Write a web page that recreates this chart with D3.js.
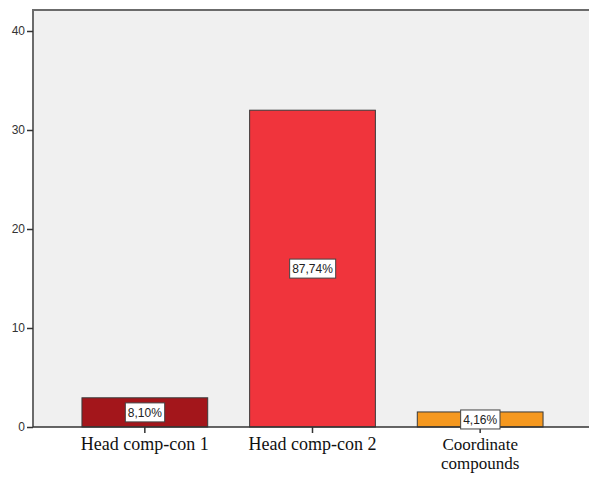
<!DOCTYPE html>
<html>
<head>
<meta charset="utf-8">
<script src="https://cdn.jsdelivr.net/npm/d3@7"></script>
<style>
  html, body { margin: 0; background: #fff; overflow: hidden; }
  svg { display: block; }
</style>
</head>
<body>
<svg id="chart" width="589" height="477"></svg>
<script>
// chart data
var categories = ['Head comp-con 1', 'Head comp-con 2', 'Coordinate compounds'];
var counts = [2.95, 32.0, 1.52];
var pctLabels = ['8,10%', '87,74%', '4,16%'];
var barColors = ['#A3161B', '#F0343C', '#F5981F'];
var yTicks = [0, 10, 20, 30, 40];

var svg = d3.select('#chart');

// plot frame (right edge runs off the picture)
var frame = { left: 33, top: 10, right: 589, bottom: 427 };

var x = d3.scaleBand()
    .domain(categories)
    .range([61, 564])
    .paddingInner(0.25)
    .paddingOuter(0.125);

var y = d3.scaleLinear()
    .domain([0, 40])
    .range([frame.bottom, 31]);

svg.append('rect')
    .attr('x', frame.left)
    .attr('y', frame.top)
    .attr('width', frame.right - frame.left)
    .attr('height', frame.bottom - frame.top)
    .attr('fill', '#F0F0F0');

// bars
svg.selectAll('rect.bar')
    .data(counts)
    .enter().append('rect')
    .attr('class', 'bar')
    .attr('x', function (d, i) { return x(categories[i]); })
    .attr('y', function (d) { return y(d); })
    .attr('width', x.bandwidth())
    .attr('height', function (d) { return y(0) - y(d); })
    .attr('fill', function (d, i) { return barColors[i]; })
    .attr('stroke', '#3a3a3a')
    .attr('stroke-width', 1);

// frame lines: top and left
svg.append('path')
    .attr('d', 'M' + frame.left + ',' + frame.bottom + 'V' + frame.top + 'H' + frame.right)
    .attr('fill', 'none')
    .attr('stroke', '#6b6b6b')
    .attr('stroke-width', 2);

// y axis
var yAxis = svg.append('g')
    .attr('transform', 'translate(' + frame.left + ',0)')
    .call(d3.axisLeft(y).tickValues(yTicks).tickSize(6).tickPadding(2));
yAxis.select('.domain').remove();
yAxis.selectAll('line').attr('stroke', '#333').attr('stroke-width', 1.5);
yAxis.selectAll('text')
    .attr('font-family', 'Arial, "Liberation Sans", sans-serif')
    .attr('font-size', 12)
    .attr('fill', '#333');

// x axis
var xAxis = svg.append('g')
    .attr('transform', 'translate(0,' + frame.bottom + ')')
    .call(d3.axisBottom(x).tickSize(6).tickFormat(''));
xAxis.select('.domain')
    .attr('d', 'M' + frame.left + ',0H' + frame.right)
    .attr('stroke', '#333')
    .attr('stroke-width', 1.5);
xAxis.selectAll('line').attr('stroke', '#333').attr('stroke-width', 1.5);

// category labels (wrapped like the original), one text per line
var wrapped = {
    'Head comp-con 1': ['Head comp-con 1'],
    'Head comp-con 2': ['Head comp-con 2'],
    'Coordinate compounds': ['Coordinate', 'compounds']
};
categories.forEach(function (c) {
    wrapped[c].forEach(function (line, k) {
        svg.append('text')
            .attr('x', x(c) + x.bandwidth() / 2)
            .attr('y', 450 + k * 18.5)
            .attr('text-anchor', 'middle')
            .attr('font-family', '"Liberation Serif", "Times New Roman", serif')
            .attr('font-size', k === 0 && wrapped[c].length === 1 ? 18 : 17)
            .attr('fill', '#111')
            .text(line);
    });
});

// percentage labels in the middle of each bar
counts.forEach(function (d, i) {
    var cx = x(categories[i]) + x.bandwidth() / 2;
    var cy = (y(d) + y(0)) / 2;
    var g = svg.append('g');
    var txt = g.append('text')
        .attr('x', cx)
        .attr('y', cy)
        .attr('dy', '0.36em')
        .attr('text-anchor', 'middle')
        .attr('font-family', 'Arial, "Liberation Sans", sans-serif')
        .attr('font-size', 12)
        .attr('fill', '#222')
        .text(pctLabels[i]);
    var bb = txt.node().getBBox();
    g.insert('rect', 'text')
        .attr('x', bb.x - 2.5)
        .attr('y', cy - 9.5)
        .attr('width', bb.width + 5)
        .attr('height', 19)
        .attr('fill', '#fff')
        .attr('stroke', '#444')
        .attr('stroke-width', 1);
});
</script>
</body>
</html>
